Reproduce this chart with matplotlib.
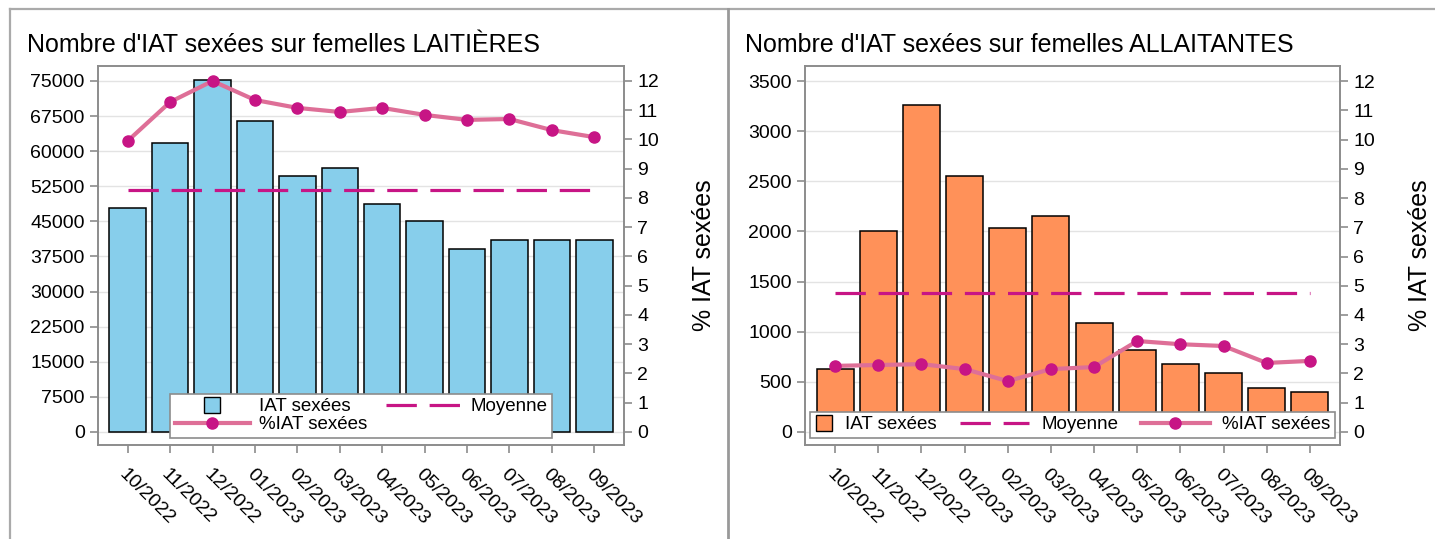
import matplotlib
matplotlib.use("Agg")
import matplotlib.pyplot as plt
from matplotlib.lines import Line2D
from matplotlib.legend_handler import HandlerLine2D

plt.rcParams['font.family'] = ['Liberation Sans', 'DejaVu Sans']

mois = ["10/2022", "11/2022", "12/2022", "01/2023", "02/2023", "03/2023",
        "04/2023", "05/2023", "06/2023", "07/2023", "08/2023", "09/2023"]

# laitières
iat_lait = [47800, 61750, 75200, 66450, 54700, 56400, 48700, 45100, 39100, 41000, 41000, 41000]
pct_lait = [9.95, 11.28, 12.0, 11.35, 11.08, 10.94, 11.08, 10.84, 10.67, 10.70, 10.32, 10.08]
moy_lait = 51700

# allaitantes
iat_all = [630, 2000, 3260, 2550, 2030, 2150, 1090, 815, 675, 588, 435, 400]
pct_all = [2.26, 2.29, 2.32, 2.15, 1.74, 2.15, 2.22, 3.11, 3.00, 2.94, 2.36, 2.43]
moy_all = 1385

lait_ticks = list(range(0, 75001, 7500))
all_ticks = list(range(0, 3501, 500))
pct_ticks = list(range(0, 13))

GRAY = "#8c8c8c"
LINE_PINK = "#DE6F97"
MAG = "#C71585"
TICK_FS = 14
LEG_FS = 13.5

W, H = 1435, 539
fig = plt.figure(figsize=(W / 100, H / 100), dpi=100)


class WideLine(HandlerLine2D):
    # handle de ligne qui deborde a gauche (legende des allaitantes)
    def __init__(self, extra, **kw):
        super().__init__(**kw)
        self.extra = extra

    def create_artists(self, legend, orig_handle, xdescent, ydescent, width, height, fontsize, trans):
        ex = self.extra * fontsize
        return super().create_artists(legend, orig_handle, xdescent + ex, ydescent,
                                      width + ex, height, fontsize, trans)


def style_axes(ax):
    for s in ax.spines.values():
        s.set_color(GRAY)
        s.set_linewidth(1.2)
    ax.tick_params(colors=GRAY, labelcolor="black", length=6, width=1.2, labelsize=TICK_FS)


def panel(rect, vals, pct, moy, ticks, ylim, color, title, title_x, ncol):
    ax = fig.add_axes(rect)
    x = list(range(len(mois)))
    ax.bar(x, vals, width=0.86, color=color, edgecolor="black", linewidth=1.1, zorder=2)
    ax.plot([x[0], x[-1]], [moy, moy], color=MAG, lw=2.3, dashes=(9.5, 4), zorder=3)
    ax.set_ylim(*ylim)
    ax.set_yticks(ticks)
    ax.set_xlim(-0.7, 11.7)
    ax.set_xticks(x)
    ax.set_xticklabels(mois, rotation=-45, ha="left", va="top", rotation_mode="anchor")
    ax.grid(axis="y", color="#e3e3e3", lw=1)
    ax.set_axisbelow(True)
    style_axes(ax)
    ax.tick_params(axis="x", pad=9)

    ax2 = ax.twinx()
    ax2.plot(x, pct, color=LINE_PINK, lw=3, marker="o", markersize=8,
             markerfacecolor=MAG, markeredgecolor=MAG, zorder=4)
    ax2.set_ylim(ylim[0] / ticks[-1] * 12, ylim[1] / ticks[-1] * 12)
    ax2.set_yticks(pct_ticks)
    style_axes(ax2)
    ax2.set_ylabel("% IAT sexées", fontsize=18, labelpad=24)

    h_bar = Line2D([], [], ls="none", marker="s", markersize=12,
                   markerfacecolor=color, markeredgecolor="black", markeredgewidth=1)
    h_moy = Line2D([], [], color=MAG, lw=2.3, dashes=(9.5, 4))
    h_pct = Line2D([], [], color=LINE_PINK, lw=3, marker="o", markersize=8,
                   markerfacecolor=MAG, markeredgecolor=MAG)
    common = dict(loc="lower center", bbox_to_anchor=(0.5, 0.018), fontsize=LEG_FS,
                  frameon=True, fancybox=False, framealpha=1, edgecolor=GRAY,
                  borderpad=0.25, labelspacing=0.05, borderaxespad=0)
    if ncol == 2:
        leg = ax2.legend([h_bar, h_pct, h_moy], ["IAT sexées", "%IAT sexées", "Moyenne"],
                         ncol=2, handlelength=4.0, columnspacing=1.0, handletextpad=0.5,
                         **common)
    else:
        leg = ax2.legend([h_bar, h_moy, h_pct], ["IAT sexées", "Moyenne", "%IAT sexées"],
                         ncol=3, handlelength=1.0, columnspacing=3.9, handletextpad=0.65,
                         handler_map={h_moy: WideLine(2.7), h_pct: WideLine(2.7)}, **common)
    leg.get_frame().set_linewidth(1.2)
    leg.set_zorder(10)

    fig.text(title_x, 1 - 52 / H, title, fontsize=18, ha="left", va="baseline")
    return ax, ax2


panel([98 / W, 1 - 445 / H, (624 - 98) / W, (445 - 66) / H],
      iat_lait, pct_lait, moy_lait, lait_ticks, (-2780, 78200), "#87CEEB",
      "Nombre d'IAT sexées sur femelles LAITIÈRES", 27 / W, 2)

panel([805 / W, 1 - 445 / H, (1340 - 805) / W, (445 - 66) / H],
      iat_all, pct_all, moy_all, all_ticks, (-130, 3650), "#FF9159",
      "Nombre d'IAT sexées sur femelles ALLAITANTES", 745 / W, 3)

# cadres gris
fig.add_artist(Line2D([10 / W, 1], [1 - 9 / H, 1 - 9 / H], color="#aaaaaa", lw=1.6))
fig.add_artist(Line2D([10 / W, 10 / W], [0, 1 - 9 / H], color="#aaaaaa", lw=1.6))
fig.add_artist(Line2D([727.5 / W, 727.5 / W], [0, 1 - 9 / H], color="#999999", lw=2))

fig.savefig("out.png", dpi=100)
